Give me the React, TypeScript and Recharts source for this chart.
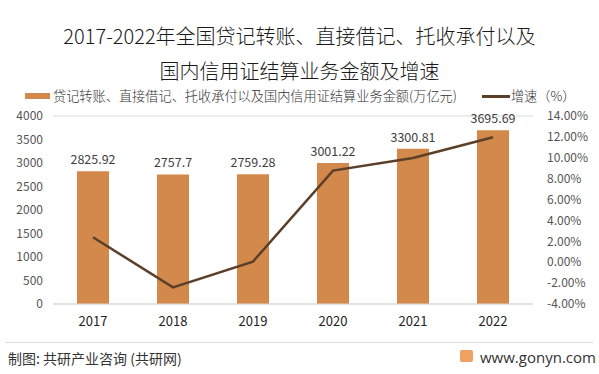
import React from 'react';
import { ComposedChart, Bar, Line, XAxis, YAxis, CartesianGrid, LabelList } from 'recharts';

// 年份
const years = ['2017', '2018', '2019', '2020', '2021', '2022'];
// 业务金额（万亿元）
const amounts = [2825.92, 2757.7, 2759.28, 3001.22, 3300.81, 3695.69];
// 增速（%）
const growth = [2.39, -2.41, 0.06, 8.77, 9.98, 11.96];

const leftTicks = [0, 500, 1000, 1500, 2000, 2500, 3000, 3500, 4000];
const rightTicks = [-4, -2, 0, 2, 4, 6, 8, 10, 12, 14];

const BAR_COLOR = '#D4894C';
const LINE_COLOR = '#5B3F29';
const FONT = '"Noto Sans CJK SC", "Noto Sans", sans-serif';

const chartData = years.map((y, i) => ({ year: y, amount: amounts[i], growth: growth[i] }));

const App = () => {
    return (
        <div style={{ position: 'absolute', left: 0, top: 0, width: 599, height: 374, background: '#fff', fontFamily: FONT, overflow: 'hidden' }}>
            <div style={{ position: 'absolute', top: 18, left: 0, width: 599, textAlign: 'center', fontSize: 20, fontWeight: 300, lineHeight: '35px', color: '#1a1a1a' }}>
                <div>2017-2022年全国贷记转账、直接借记、托收承付以及</div>
                <div>国内信用证结算业务金额及增速</div>
            </div>

            {/* 图例 */}
            <div style={{ position: 'absolute', top: 87, left: 25, display: 'flex', alignItems: 'center', fontSize: 13.2, fontWeight: 300, color: '#333', lineHeight: '18px' }}>
                <span style={{ display: 'inline-block', width: 25, height: 6, background: BAR_COLOR, marginRight: 3 }} />
                <span>贷记转账、直接借记、托收承付以及国内信用证结算业务金额(万亿元)</span>
                <span style={{ display: 'inline-block', width: 28, height: 3, background: LINE_COLOR, marginLeft: 25, marginRight: 1 }} />
                <span>增速（%）</span>
            </div>

            <div style={{ position: 'absolute', top: 0, left: 0 }}>
                <ComposedChart
                    width={599}
                    height={374}
                    data={chartData}
                    margin={{ top: 116, right: 0, bottom: 40, left: 0 }}
                    style={{ fontFamily: FONT }}
                >
                    <CartesianGrid vertical={false} stroke="#d9d9d9" />
                    <XAxis
                        dataKey="year"
                        axisLine={{ stroke: '#d9d9d9' }}
                        tickLine={false}
                        tickSize={0}
                        tickMargin={13}
                        height={30}
                        tick={{ fill: '#222', fontSize: 13 }}
                    />
                    <YAxis
                        yAxisId="left"
                        domain={[0, 4000]}
                        ticks={leftTicks}
                        interval={0}
                        axisLine={false}
                        tickLine={false}
                        tickSize={0}
                        tickMargin={10}
                        width={53}
                        tick={{ fill: '#555', fontSize: 12 }}
                    />
                    <YAxis
                        yAxisId="right"
                        orientation="right"
                        domain={[-4, 14]}
                        ticks={rightTicks}
                        interval={0}
                        axisLine={false}
                        tickLine={false}
                        tickSize={0}
                        tickMargin={14}
                        width={66}
                        tick={{ fill: '#555', fontSize: 12, textAnchor: 'start' }}
                        tickFormatter={(v: number) => `${v.toFixed(2)}%`}
                    />
                    <Bar yAxisId="left" dataKey="amount" fill={BAR_COLOR} barSize={32} isAnimationActive={false}>
                        <LabelList dataKey="amount" position="top" offset={7} fill="#404040" fontSize={12.5} />
                    </Bar>
                    <Line
                        yAxisId="right"
                        dataKey="growth"
                        stroke={LINE_COLOR}
                        strokeWidth={2.5}
                        dot={false}
                        isAnimationActive={false}
                    />
                </ComposedChart>
            </div>

            <div style={{ position: 'absolute', left: 5, top: 342, width: 588, height: 1, background: '#dcdcdc' }} />
            <div style={{ position: 'absolute', left: 8, top: 348, fontSize: 14, color: '#333', lineHeight: '20px' }}>
                制图: 共研产业咨询 (共研网)
            </div>
            <div style={{ position: 'absolute', left: 460, top: 350, width: 13, height: 12, background: '#F0A060', borderRadius: 2 }} />
            <div style={{ position: 'absolute', left: 480, top: 347, fontSize: 15, color: '#333', lineHeight: '20px', fontFamily: '"Open Sans", sans-serif' }}>
                www.gonyn.com
            </div>
        </div>
    );
};

export default App;
